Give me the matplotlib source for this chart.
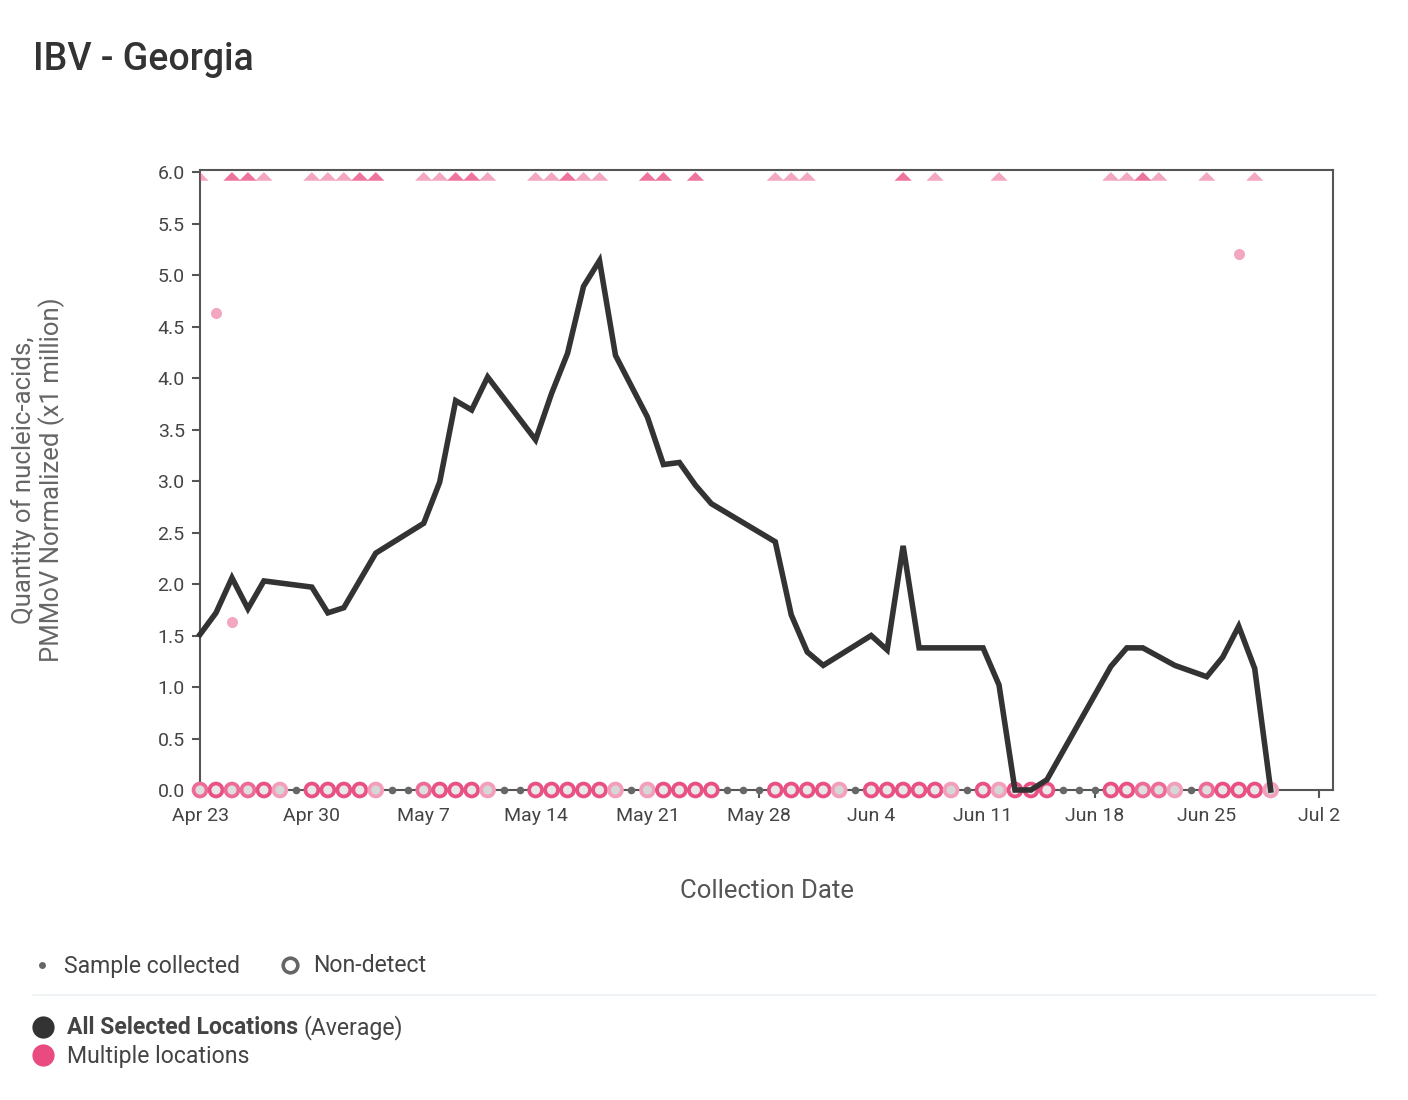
import matplotlib
matplotlib.use("Agg")
import matplotlib.pyplot as plt
import matplotlib.dates as mdates
import numpy as np

plt.rcParams['font.family'] = ['Roboto', 'DejaVu Sans']

# ---------------- data ----------------
start_date = "2024-04-23"

# average of all selected locations (days after start_date)
line_day = [0, 1, 2, 3, 4, 7, 8, 9, 11, 14, 15, 16, 17, 18, 21, 22, 23, 24, 25, 26,
            28, 29, 30, 31, 32, 36, 37, 38, 39, 42, 43, 44, 45, 49, 50, 51, 52, 53,
            57, 58, 59, 61, 63, 64, 65, 66, 67]
line_value = [1.51, 1.72, 2.06, 1.76, 2.03, 1.97, 1.72, 1.77, 2.30, 2.59, 2.99, 3.78,
              3.69, 4.01, 3.40, 3.85, 4.24, 4.89, 5.14, 4.22, 3.62, 3.16, 3.18, 2.96,
              2.78, 2.41, 1.70, 1.34, 1.21, 1.50, 1.36, 2.37, 1.38, 1.38, 1.02, 0.0,
              0.0, 0.10, 1.20, 1.38, 1.38, 1.21, 1.10, 1.29, 1.59, 1.18, 0.0]

# individual location values within range
loc_day = [1, 2, 65]
loc_value = [4.63, 1.63, 5.20]

# individual location values above the axis maximum (shown as triangles)
offscale_day = [0, 2, 3, 4, 7, 8, 9, 10, 11, 14, 15, 16, 17, 18, 21, 22, 23, 24, 25,
                28, 29, 31, 36, 37, 38, 44, 46, 50, 57, 58, 59, 60, 63, 66]
offscale_count = [1, 2, 2, 1, 1, 1, 1, 2, 2, 1, 1, 2, 2, 1, 1, 1, 2, 1, 1,
                  2, 2, 2, 1, 1, 1, 2, 1, 1, 1, 1, 2, 1, 1, 1]

# non-detects (number of overlapping locations)
nondetect_day = [0, 1, 2, 3, 4, 5, 7, 8, 9, 10, 11, 14, 15, 16, 17, 18, 21, 22, 23,
                 24, 25, 26, 28, 29, 30, 31, 32, 36, 37, 38, 39, 40, 42, 43, 44, 45,
                 46, 47, 49, 50, 51, 52, 53, 57, 58, 59, 60, 61, 63, 64, 65, 66, 67]
nondetect_count = [2, 3, 2, 2, 3, 1, 3, 3, 3, 3, 1, 2, 3, 3, 3, 1, 3, 3, 3,
                   3, 3, 1, 1, 3, 3, 3, 3, 3, 3, 3, 3, 1, 3, 3, 3, 3,
                   3, 1, 3, 1, 3, 3, 3, 3, 3, 2, 2, 1, 2, 3, 3, 3, 1]

# sample collected (visible dots)
sample_day = [6, 12, 13, 19, 20, 27, 33, 34, 35, 41, 48, 54, 55, 56, 62]

xtick_day = [0, 7, 14, 21, 28, 35, 42, 49, 56, 63, 70]
xtick_labels = ["Apr 23", "Apr 30", "May 7", "May 14", "May 21", "May 28",
                "Jun 4", "Jun 11", "Jun 18", "Jun 25", "Jul 2"]
ytick_values = [0.0, 0.5, 1.0, 1.5, 2.0, 2.5, 3.0, 3.5, 4.0, 4.5, 5.0, 5.5, 6.0]
y_max = 6.0

# ---------------- helpers ----------------
base = np.datetime64(start_date)


def to_dates(days):
    return base + np.array(days).astype('timedelta64[D]')


PINK = np.array([232, 71, 125]) / 255.0


def pink_blend(alpha):
    c = 1 - alpha * (1 - PINK)
    return tuple(c)


alpha_for = {1: 0.48, 2: 0.75, 3: 0.93}
ring_alpha_for = {1: 0.52, 2: 0.8, 3: 0.95}

# ---------------- figure ----------------
W, H = 1408, 1100
fig = plt.figure(figsize=(W / 100, H / 100), dpi=100)
ax = fig.add_axes([200 / W, 1 - 790 / H, 1133 / W, 620 / H])

x0 = mdates.date2num(base)
ax.set_xlim(x0, x0 + 70.9)
ax.set_ylim(0, 6.02)

for s in ax.spines.values():
    s.set_color('#555555')
    s.set_linewidth(1.5)

ax.set_yticks(ytick_values)
ax.set_yticklabels([f"{v:.1f}" for v in ytick_values])
ax.set_xticks(to_dates(xtick_day))
ax.set_xticklabels(xtick_labels)
ax.tick_params(axis='both', colors='#555555', labelcolor='#444444', labelsize=14,
               length=6, width=1.5, direction='out')
ax.tick_params(axis='y', pad=5)
ax.tick_params(axis='x', pad=6)

# sample collected dots
ax.scatter(to_dates(sample_day), np.zeros(len(sample_day)), s=30, color='#666666',
           linewidths=0, zorder=3, clip_on=False)

# non-detect circles
nd_edge = [pink_blend(ring_alpha_for[c]) for c in nondetect_count]
face_for = {1: '#d6d6d6', 2: '#dedede', 3: '#e8e8e8'}
nd_face = [face_for[c] for c in nondetect_count]
ax.scatter(to_dates(nondetect_day), np.zeros(len(nondetect_day)), s=9.3 ** 2,
           facecolors=nd_face, edgecolors=nd_edge, linewidths=2.7, zorder=4,
           clip_on=False)

# off-scale triangles at the top
tri_marker = [(-1, -1), (1, -1), (0, 0), (-1, -1)]
tri_colors = [(*PINK, alpha_for[c]) for c in offscale_count]
ax.scatter(to_dates(offscale_day), np.full(len(offscale_day), y_max), marker=tri_marker,
           s=12.5 ** 2, c=tri_colors, linewidths=0, zorder=3)

# individual location points
ax.scatter(to_dates(loc_day), loc_value, s=8 ** 2, color=pink_blend(0.48),
           linewidths=0, zorder=5)

# average line
ax.plot(to_dates(line_day), line_value, color='#333333', lw=4.0, zorder=6,
        solid_joinstyle='miter', clip_on=False)

# ---------------- texts / legend (overlay in pixel coordinates) ----------------
lax = fig.add_axes([0, 0, 1, 1])
lax.set_xlim(0, W)
lax.set_ylim(H, 0)
lax.set_axis_off()
lax.patch.set_alpha(0)

lax.text(33, 70, "IBV - Georgia", fontsize=27, fontweight='medium', color='#333333',
         ha='left', va='baseline')

lax.text(38, 480, "Quantity of nucleic-acids,\nPMMoV Normalized (x1 million)",
         rotation=90, fontsize=18.5, color='#666666', ha='center', va='center',
         multialignment='center', linespacing=1.1)

lax.text(767, 891, "Collection Date", fontsize=18.5, color='#555555',
         ha='center', va='center')

LEG_FS = 16.6
# legend row 1
lax.plot([42], [965], marker='o', ms=5, color='#666666', mew=0)
lax.text(64, 966, "Sample collected", fontsize=LEG_FS, color='#444444', ha='left',
         va='center')
lax.plot([290], [965], marker='o', ms=10.5, mfc='white', mec='#666666', mew=2.6)
lax.text(313, 966, "Non-detect", fontsize=LEG_FS, color='#444444', ha='left',
         va='center')

# separator
lax.plot([33, 1376], [995, 995], color='#eef1f4', lw=1.2)

# legend rows 2 & 3
lax.plot([43], [1027], marker='o', ms=16, color='#333333', mew=0)
t1 = lax.text(67, 1028, "All Selected Locations", fontsize=LEG_FS, fontweight='bold',
              color='#444444', ha='left', va='center')
lax.plot([43], [1055], marker='o', ms=16, color='#e94b80', mew=0)
lax.text(67, 1056, "Multiple locations", fontsize=LEG_FS, color='#444444', ha='left',
         va='center')

fig.canvas.draw()
bb = t1.get_window_extent()
lax.text(bb.x1 + 5, 1028, "(Average)", fontsize=LEG_FS, color='#444444', ha='left',
         va='center')

fig.savefig("out.png", dpi=100, facecolor='white')
